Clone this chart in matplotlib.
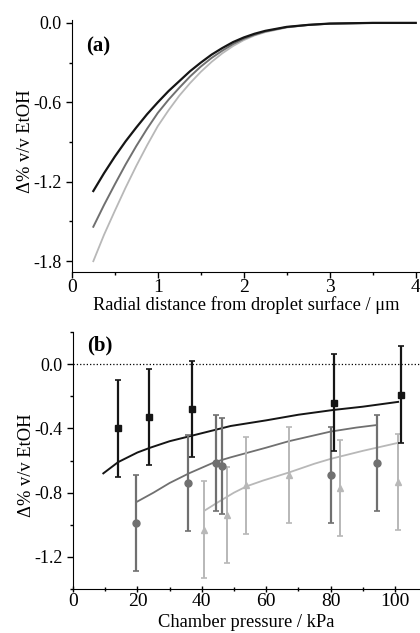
import numpy as np
import matplotlib
matplotlib.use('Agg')
from matplotlib import pyplot as plt
from matplotlib.ticker import MultipleLocator

# Panel (a): concentration deficit vs radial distance
r_um = [0.25, 0.375, 0.5, 0.625, 0.75, 0.875, 1.0, 1.125, 1.25, 1.375, 1.5, 1.625,
        1.75, 1.875, 2.0, 2.125, 2.25, 2.5, 2.75, 3.0, 3.5, 4.0]
prof_black = [-1.27, -1.135, -1.01, -0.895, -0.79, -0.69, -0.60, -0.515, -0.44, -0.365,
              -0.30, -0.24, -0.19, -0.145, -0.11, -0.082, -0.06, -0.03, -0.015, -0.005, 0.0, 0.0]
prof_dark = [-1.54, -1.375, -1.22, -1.07, -0.93, -0.80, -0.68, -0.58, -0.49, -0.405,
             -0.33, -0.265, -0.21, -0.16, -0.12, -0.09, -0.065, -0.032, -0.015, -0.006, 0.0, 0.0]
prof_light = [-1.80, -1.60, -1.42, -1.245, -1.08, -0.925, -0.78, -0.66, -0.55, -0.455,
              -0.37, -0.295, -0.23, -0.175, -0.13, -0.095, -0.07, -0.035, -0.016, -0.006, 0.0, 0.0]

# Panel (b): measurements vs chamber pressure
p_sq = [14, 23.5, 37, 81, 102]
d_sq = [-0.40, -0.33, -0.28, -0.24, -0.19]
p_ci = [19.6, 35.8, 44.3, 46.2, 80.1, 94.3]
d_ci = [-0.99, -0.74, -0.615, -0.635, -0.69, -0.615]
p_tr = [40.6, 47.8, 53.6, 67, 82.8, 101]
d_tr = [-1.03, -0.94, -0.755, -0.69, -0.77, -0.735]
err = 0.3

# model curves in (b)
fit_p_black = [9.4, 14, 20, 24, 30, 39, 49, 60, 70, 81, 90, 101]
fit_black = [-0.68, -0.61, -0.55, -0.52, -0.48, -0.435, -0.385, -0.35, -0.315, -0.285, -0.265, -0.235]
fit_p_dark = [20, 25, 30, 36, 44, 49, 60, 67, 80, 88, 94]
fit_dark = [-0.855, -0.80, -0.74, -0.68, -0.61, -0.58, -0.52, -0.48, -0.42, -0.395, -0.38]
fit_p_light = [41, 45, 50, 54, 59, 67, 75, 80, 90, 101]
fit_light = [-0.91, -0.86, -0.80, -0.76, -0.725, -0.675, -0.62, -0.59, -0.54, -0.49]

c_black = '#151515'
c_dark = '#707070'
c_light = '#b8b8b8'

plt.rcParams['font.family'] = ['Liberation Serif', 'DejaVu Serif']
plt.rcParams['mathtext.fontset'] = 'stix'

def main():
  fig = plt.figure(figsize=(4.2, 6.33), dpi=100)
  ax_a = fig.add_axes([0.171, 0.570, 0.829, 0.398])
  ax_b = fig.add_axes([0.174, 0.0695, 0.826, 0.406])

  for ax in (ax_a, ax_b):
    ax.spines['top'].set_visible(False)
    ax.spines['right'].set_visible(False)
    ax.tick_params(labelsize=13, width=1, length=4)
    ax.tick_params(which='minor', width=1, length=2.5)

  # (a)
  ax_a.plot(r_um, prof_light, color=c_light, lw=1.3)
  ax_a.plot(r_um, prof_dark, color=c_dark, lw=1.4)
  ax_a.plot(r_um, prof_black, color=c_black, lw=1.6)
  ax_a.set_xlim(0, 4.05)
  ax_a.set_ylim(-1.883, 0.02)
  ax_a.set_yticks([0.0, -0.6, -1.2, -1.8])
  ax_a.set_yticklabels(['0.0', '-0.6', '-1.2', '-1.8'])
  ax_a.yaxis.set_minor_locator(MultipleLocator(0.3))
  ax_a.set_xticks([0, 1, 2, 3, 4])
  ax_a.xaxis.set_minor_locator(MultipleLocator(0.5))
  ax_a.tick_params(axis='x', labelsize=14, pad=1)
  ax_a.set_xlabel('Radial distance from droplet surface / μm', fontsize=13.2)
  ax_a.xaxis.set_label_coords(0.5, -0.095)
  ax_a.set_ylabel('Δ% v/v EtOH', fontsize=13.3)
  ax_a.yaxis.set_label_coords(-0.108, 0.52)
  ax_a.text(0.04, 0.935, '(a)', transform=ax_a.transAxes, fontsize=15,
            fontweight='bold', va='top')

  # (b)
  ax_b.axhline(0.0, color='black', lw=0.9, ls=':')
  ax_b.plot(fit_p_light, fit_light, color=c_light, lw=1.3)
  ax_b.plot(fit_p_dark, fit_dark, color=c_dark, lw=1.3)
  ax_b.plot(fit_p_black, fit_black, color=c_black, lw=1.4)
  ax_b.errorbar(p_tr, d_tr, yerr=err, fmt='^', color=c_light, ms=5,
                elinewidth=1.4, capsize=2, capthick=1.2)
  ax_b.errorbar(p_ci, d_ci, yerr=err, fmt='o', color=c_dark, ms=5,
                elinewidth=1.6, capsize=2, capthick=1.2)
  ax_b.errorbar(p_sq, d_sq, yerr=err, fmt='s', color=c_black, ms=4.5,
                elinewidth=1.6, capsize=2, capthick=1.2)
  ax_b.set_xlim(0, 107.8)
  ax_b.set_ylim(-1.4, 0.2)
  ax_b.set_yticks([0.0, -0.4, -0.8, -1.2])
  ax_b.set_yticklabels(['0.0', '-0.4', '-0.8', '-1.2'])
  ax_b.yaxis.set_minor_locator(MultipleLocator(0.2))
  ax_b.set_xticks([0, 20, 40, 60, 80, 100])
  ax_b.xaxis.set_minor_locator(MultipleLocator(10))
  ax_b.tick_params(axis='x', which='both', direction='inout', labelsize=14, pad=1)
  ax_b.set_xlabel('Chamber pressure / kPa', fontsize=13.3)
  ax_b.xaxis.set_label_coords(0.5, -0.097)
  ax_b.set_ylabel('Δ% v/v EtOH', fontsize=13.3)
  ax_b.yaxis.set_label_coords(-0.11, 0.48)
  ax_b.text(0.04, 0.985, '(b)', transform=ax_b.transAxes, fontsize=15,
            fontweight='bold', va='top')

  fig.savefig('out.png', dpi=100)
  plt.close()

if __name__ == '__main__':
  main()
